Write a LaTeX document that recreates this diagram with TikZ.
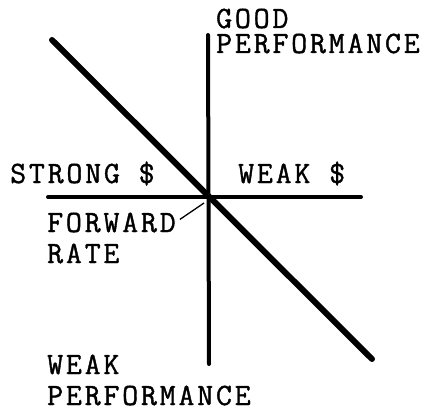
\documentclass[tikz,border=0pt]{standalone}
\usepackage{fontspec}
\usetikzlibrary{calc}
\newfontfamily\lblfont{Latin Modern Mono}[LetterSpace=9, FakeBold=1.2]
\tikzset{
  axis/.style={line width=4pt, line cap=round},
  trendline/.style={line width=6pt, line cap=round},
  leader/.style={line width=1.3pt},
  axlabel/.style={font=\lblfont\fontsize{31}{25}\selectfont, align=left,
    inner sep=0pt, anchor=base west},
  axlabelwide/.style={axlabel, font=\lblfont\fontsize{31}{31}\selectfont},
}

\begin{document}
\begin{tikzpicture}[x=1pt, y=1pt]
\useasboundingbox (0,0) rectangle (426,408);

%%==========================================================================
%% AXES AND TREND LINE
%%==========================================================================
\coordinate (o) at (209,211);
\coordinate (top) at (208,373);
\coordinate (bot) at (209,44);
\coordinate (left) at (48,211);
\coordinate (right) at (361,211);
\coordinate (tl) at (52,368);
\coordinate (br) at (372,49);

\draw[axis] (top) -- (bot);
\draw[axis] (left) -- (right);
\draw[trendline] (tl) -- (br);

%%==========================================================================
%% LABELS (base anchor = baseline of the last line)
%%==========================================================================
\node[axlabel] (good) at (216,355) {GOOD\\PERFORMANCE};
\node[axlabel] (strong) at (10,225) {STRONG \$};
\node[axlabel] (weakd) at (238,225) {WEAK \$};
\node[axlabelwide] (fwd) at (47,145) {FORWARD\\RATE};
\node[axlabelwide] (weakp) at (47,3) {WEAK\\PERFORMANCE};

\draw[leader] ([shift={(4,-7)}]fwd.north east) -- ([shift={(-5,-6)}]o);

\end{tikzpicture}
\end{document}
